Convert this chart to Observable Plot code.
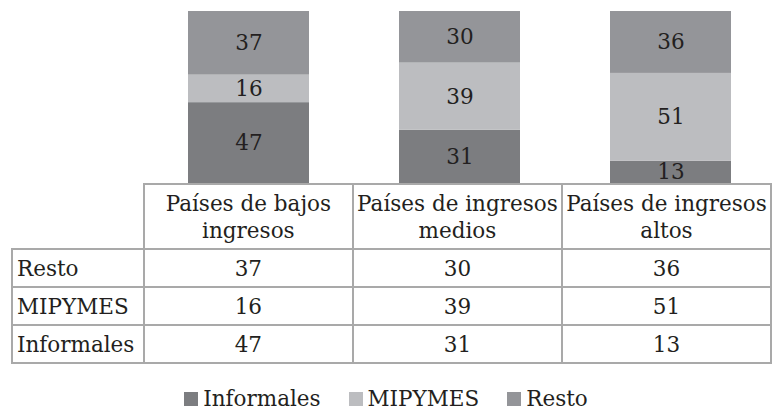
<!DOCTYPE html>
<html><head><meta charset="utf-8">
<script src="https://cdn.jsdelivr.net/npm/d3@7"></script>
<script src="https://cdn.jsdelivr.net/npm/@observablehq/plot@0.6"></script>
<style>
html,body{margin:0;padding:0;background:#fff;}
body{width:772px;height:410px;overflow:hidden;position:relative;font-family:"DejaVu Serif",serif;color:#231f20;}
#chart{position:absolute;left:0;top:0;}
#tbl{position:absolute;left:11px;top:183px;border-collapse:collapse;font-size:21.5px;table-layout:fixed;}
#tbl td,#tbl th{border:2px solid #a9a9a9;padding:0;font-weight:normal;line-height:27px;}
#tbl th{height:63px;text-align:center;vertical-align:middle;}
#tbl td{height:36px;text-align:center;vertical-align:middle;}
#tbl td.lab{text-align:left;padding-left:4px;}
#tbl th.corner{border-top:none;border-left:none;}
#legend{position:absolute;left:0;top:385px;width:772px;display:flex;justify-content:center;font-size:21.5px;line-height:27px;white-space:nowrap;}
#legend .item{margin:0 14px;}
#legend .sw{display:inline-block;width:14px;height:14px;margin-right:5px;vertical-align:baseline;}
</style></head><body>
<div id="chart"></div>
<table id="tbl"></table>
<div id="legend"></div>
<script>
const categories = ["Países de bajos ingresos", "Países de ingresos medios", "Países de ingresos altos"];
const series = ["Informales", "MIPYMES", "Resto"];
const informales = [47, 31, 13];
const mipymes = [16, 39, 51];
const resto = [37, 30, 36];
const tableRows = ["Resto", "MIPYMES", "Informales"];
const colors = ["#7c7d80", "#bcbdc0", "#949599"];

const values = {Informales: informales, MIPYMES: mipymes, Resto: resto};
const data = [];
series.forEach(s => categories.forEach((c, i) => data.push({category: c, series: s, value: values[s][i]})));

const font = '"DejaVu Serif", serif';
const plot = Plot.plot({
  width: 772, height: 184,
  marginTop: 11, marginBottom: 1, marginLeft: 143, marginRight: 0,
  x: {domain: categories, range: [143, 776], padding: 0, axis: null},
  y: {domain: [0, 100], range: [183, 11], axis: null},
  color: {domain: series, range: colors},
  style: {fontFamily: font, overflow: "visible", background: "transparent"},
  marks: [
    Plot.barY(data, Plot.stackY({x: "category", y: "value", z: "series", fill: "series", insetLeft: 45, insetRight: 45})),
    Plot.text(data, Plot.stackY({x: "category", y: "value", z: "series", text: d => String(d.value), fontSize: 21.5, fontFamily: font, fill: "#231f20"}))
  ]
});
document.getElementById("chart").appendChild(plot);

// table
const tbl = d3.select("#tbl");
const cg = tbl.append("colgroup");
cg.append("col").style("width", "132px");
categories.forEach(() => cg.append("col").style("width", "211px"));
const hr = tbl.append("tr");
hr.append("th").attr("class", "corner");
categories.forEach(c => hr.append("th").text(c));
tableRows.forEach(r => {
  const tr = tbl.append("tr");
  tr.append("td").attr("class", "lab").text(r);
  values[r].forEach(v => tr.append("td").text(v));
});

// legend
const lg = d3.select("#legend");
series.forEach((s, i) => {
  const it = lg.append("span").attr("class", "item");
  it.append("span").attr("class", "sw").style("background", colors[i]);
  it.append("span").text(s);
});
</script>
</body></html>
